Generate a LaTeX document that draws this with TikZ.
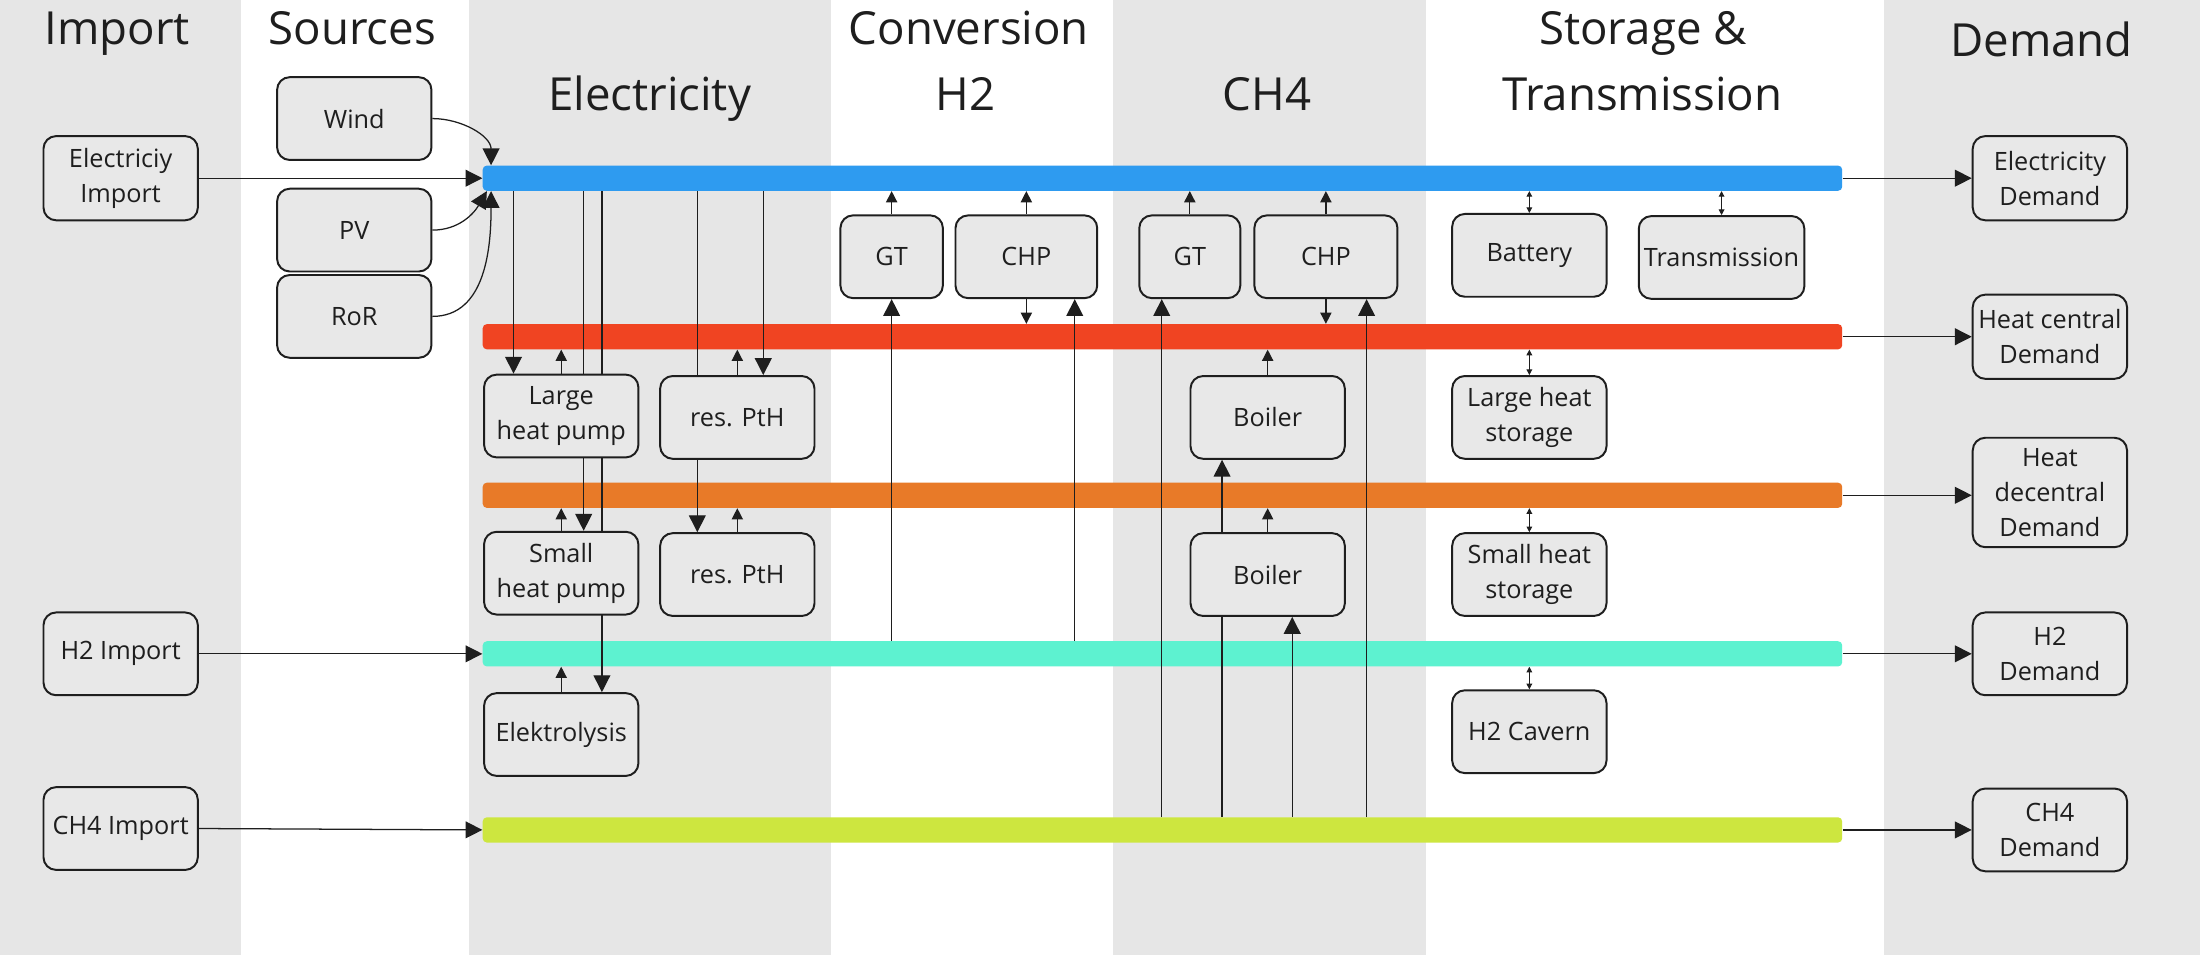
\documentclass[tikz,border=0pt]{standalone}
\usepackage{fontspec}
\setmainfont{Open Sans}
\usetikzlibrary{arrows.meta}
\definecolor{colgray}{HTML}{E6E6E6}
\definecolor{boxgray}{HTML}{E8E8E8}
\definecolor{elblue}{HTML}{2E9BF0}
\definecolor{heatred}{HTML}{F04422}
\definecolor{heatorange}{HTML}{E87A28}
\definecolor{hcyan}{HTML}{5DF2D0}
\definecolor{gaslime}{HTML}{CDE63F}
\definecolor{ink}{HTML}{1E1E1E}
\pgfdeclarelayer{columns}
\pgfdeclarelayer{lines}
\pgfsetlayers{columns,lines,main}

\begin{document}
\begin{tikzpicture}[x=1pt,y=-1pt,
box/.style={draw=ink, line width=1.4pt, fill=boxgray, rounded corners=9pt,
  minimum width=110pt, minimum height=59pt, align=center, inner sep=1pt,
  text=ink, font=\fontsize{18}{25}\selectfont},
head/.style={anchor=base, text=ink, font=\fontsize{32.5}{40}\selectfont},
bus/.style={rounded corners=3pt, minimum width=969pt, minimum height=18pt, inner sep=0pt},
big/.style={-{Triangle[length=12pt,width=12pt]}, line width=0.9pt, draw=ink},
small/.style={-{Triangle[length=8pt,width=8pt]}, line width=0.9pt, draw=ink},
twoway/.style={{Triangle[length=4pt,width=4pt]}-{Triangle[length=4pt,width=4pt]}, line width=0.7pt, draw=ink},
]
\useasboundingbox (0,0) rectangle (1568,680.7);
\begin{pgfonlayer}{columns}
\fill[white] (0,0) rectangle (1568,680.7);
\fill[colgray] (0,0) rectangle (172,680.7);
\fill[colgray] (334,0) rectangle (592,680.7);
\fill[colgray] (793,0) rectangle (1016,680.7);
\fill[colgray] (1343,0) rectangle (1568,680.7);
% buses
\node[bus, fill=elblue] (elbus) at (828.5,127) {};
\node[bus, fill=heatred] (rbus) at (828.5,240) {};
\node[bus, fill=heatorange] (obus) at (828.5,353) {};
\node[bus, fill=hcyan] (cbus) at (828.5,466) {};
\node[bus, fill=gaslime] (lbus) at (828.5,591.5) {};
\end{pgfonlayer}

\node[head] (hImport) at (83.5,32) {Import};
\node[head] (hSources) at (251,32) {Sources};
\node[head] (hElec) at (463,78.5) {Electricity};
\node[head] (hConv) at (690.5,32) {Conversion};
\node[head] (hH2) at (688,78.5) {H2};
\node[head] (hCH4) at (903,78.5) {CH4};
\node[head] (hStor) at (1171,32) {Storage \&};
\node[head] (hTrans) at (1170.5,78.5) {Transmission};
\node[head] (hDemand) at (1455,40.5) {Demand};

% helper x positions
\coordinate (s1) at (350,0);
\coordinate (s2) at (347,0);
\coordinate (e1) at (366,0);
\coordinate (e2) at (416,0);
\coordinate (e3) at (429,0);
\coordinate (e4) at (497,0);
\coordinate (e5) at (544,0);
\coordinate (h1) at (766,0);
\coordinate (g1) at (828,0);
\coordinate (g2) at (871,0);
\coordinate (g3) at (921,0);
\coordinate (g4) at (974,0);

\begin{scope}[every node/.append style={box}]
\node[minimum height=60pt] (elimp) at (86,127) {Electriciy\\Import};
\node (wind) at (252.5,84.5) {Wind};
\node (pv) at (252.5,164) {PV};
\node (ror) at (252.5,225.5) {RoR};
\node (h2imp) at (86,466) {H2 Import};
\node (ch4imp) at (86,590.5) {CH4 Import};
\node (lhp) at (400,296.5) {Large\\heat pump};
\node (ptha) at (525.5,297.5) {res. PtH};
\node (shp) at (400,408.5) {Small\\heat pump};
\node (pthb) at (525.5,409.5) {res. PtH};
\node (elys) at (400,523.5) {Elektrolysis};
\node[minimum width=73pt] (gth) at (635.5,183) {GT};
\node[minimum width=101pt] (chph) at (731.5,183) {CHP};
\node[minimum width=72pt] (gtm) at (848,183) {GT};
\node[minimum width=102pt] (chpm) at (945,183) {CHP};
\node (boila) at (903.5,297.5) {Boiler};
\node (boilb) at (903.5,409.5) {Boiler};
\node (batt) at (1090,182) {Battery};
\node[minimum width=118pt] (trans) at (1227,183.5) {Transmission};
\node (lhs) at (1090,297.5) {Large heat\\storage};
\node (shs) at (1090,409.5) {Small heat\\storage};
\node (cav) at (1090,521.5) {H2 Cavern};
\node[minimum height=60pt] (eldem) at (1461,127) {Electricity\\Demand};
\node[minimum height=60pt] (hcdem) at (1461,240) {Heat central\\Demand};
\node[minimum height=78pt] (hddem) at (1461,351) {Heat\\decentral\\Demand};
\node (h2dem) at (1461,466) {H2\\Demand};
\node (ch4dem) at (1461,591.5) {CH4\\Demand};
\end{scope}

\begin{pgfonlayer}{lines}
% imports and sources
\draw[big] (elimp.east) -- (elbus.west);
\draw[big] (h2imp.east) -- (cbus.west);
\draw[big] (ch4imp.east) -- (lbus.west);
\draw[big] (wind.east) to[out=0,in=90] (elbus.north -| s1);
\draw[big] (pv.east) to[out=0,in=-120] (elbus.south -| s2);
\draw[big] (ror.east) to[out=0,in=-90] (elbus.south -| s1);

% electricity
\draw[big] (elbus.south -| e1) -- (lhp.north -| e1);
\draw[big] (elbus.south -| e2) -- (shp.north -| e2);
\draw[big] (elbus.south -| e3) -- (elys.north -| e3);
\draw[big] (elbus.south -| e4) -- (pthb.north -| e4);
\draw[big] (elbus.south -| e5) -- (ptha.north -| e5);
\draw[small] (lhp.north) -- (rbus.south -| lhp.north);
\draw[small] (ptha.north) -- (rbus.south -| ptha.north);
\draw[small] (shp.north) -- (obus.south -| shp.north);
\draw[small] (pthb.north) -- (obus.south -| pthb.north);
\draw[small] (elys.north) -- (cbus.south -| elys.north);

% conversion H2
\draw[small] (gth.north) -- (elbus.south -| gth.north);
\draw[small] (chph.north) -- (elbus.south -| chph.north);
\draw[small] (chph.south) -- (rbus.north -| chph.south);
\draw[big] (cbus.north -| gth.south) -- (gth.south);
\draw[big] (cbus.north -| h1) -- (chph.south -| h1);

% conversion CH4
\draw[small] (gtm.north) -- (elbus.south -| gtm.north);
\draw[small] (chpm.north) -- (elbus.south -| chpm.north);
\draw[small] (chpm.south) -- (rbus.north -| chpm.south);
\draw[big] (lbus.north -| g1) -- (gtm.south -| g1);
\draw[big] (lbus.north -| g2) -- (boila.south -| g2);
\draw[big] (lbus.north -| g3) -- (boilb.south -| g3);
\draw[big] (lbus.north -| g4) -- (chpm.south -| g4);
\draw[small] (boila.north) -- (rbus.south -| boila.north);
\draw[small] (boilb.north) -- (obus.south -| boilb.north);

% storage & transmission
\draw[twoway] (batt.north) -- (elbus.south -| batt.north);
\draw[twoway] (trans.north) -- (elbus.south -| trans.north);
\draw[twoway] (lhs.north) -- (rbus.south -| lhs.north);
\draw[twoway] (shs.north) -- (obus.south -| shs.north);
\draw[twoway] (cav.north) -- (cbus.south -| cav.north);

% demand
\foreach \b/\d in {elbus/eldem, rbus/hcdem, obus/hddem, cbus/h2dem, lbus/ch4dem}
  \draw[big] (\b.east) -- (\b.east -| \d.west);
\end{pgfonlayer}
\end{tikzpicture}
\end{document}
